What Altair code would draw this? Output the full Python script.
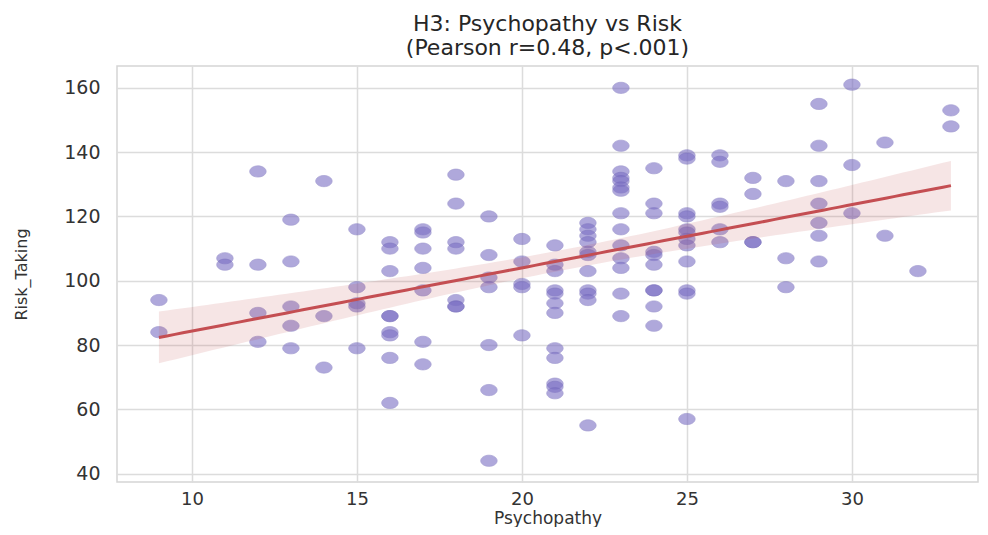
import altair as alt
import numpy as np
import pandas as pd

# Psychopathy score (x) and Risk_Taking score (y)
psychopathy = (
    [9] * 2 + [11] * 2 + [12] * 4 + [13] * 5 + [14] * 3 + [15] * 5 + [16] * 9
    + [17] * 7 + [18] * 7 + [19] * 7 + [20] * 5 + [21] * 12 + [22] * 11
    + [23] * 14 + [24] * 10 + [25] * 12 + [26] * 6 + [27] * 4 + [28] * 3
    + [29] * 7 + [30] * 3 + [31] * 2 + [32] * 1 + [33] * 2
)
risk_taking = [
    94, 84,                                         # 9
    107, 105,                                       # 11
    134, 105, 90, 81,                               # 12
    119, 106, 92, 86, 79,                           # 13
    131, 89, 73,                                    # 14
    116, 98, 93, 92, 79,                            # 15
    112, 110, 103, 89, 89, 84, 83, 76, 62,          # 16
    116, 115, 110, 104, 97, 81, 74,                 # 17
    133, 124, 112, 110, 94, 92, 92,                 # 18
    120, 108, 101, 98, 80, 66, 44,                  # 19
    113, 106, 99, 98, 83,                           # 20
    111, 105, 103, 97, 96, 93, 90, 79, 76, 68, 67, 65,  # 21
    118, 116, 114, 112, 109, 108, 103, 97, 96, 94, 55,  # 22
    160, 142, 134, 132, 131, 129, 128, 121, 116, 111, 107, 104, 96, 89,  # 23
    135, 124, 121, 109, 108, 105, 97, 97, 92, 86,   # 24
    139, 138, 121, 120, 116, 115, 113, 111, 106, 97, 96, 57,  # 25
    139, 137, 124, 123, 116, 112,                   # 26
    132, 127, 112, 112,                             # 27
    131, 107, 98,                                   # 28
    155, 142, 131, 124, 118, 114, 106,              # 29
    161, 136, 121,                                  # 30
    143, 114,                                       # 31
    103,                                            # 32
    153, 148,                                       # 33
]

x_ticks = [10, 15, 20, 25, 30]
y_ticks = [40, 60, 80, 100, 120, 140, 160]
title_lines = ["H3: Psychopathy vs Risk", "(Pearson r=0.48, p<.001)"]

pts = pd.DataFrame({"Psychopathy": psychopathy, "Risk_Taking": risk_taking})

# OLS fit and 95% confidence band for the mean
xa = np.array(psychopathy, dtype=float)
ya = np.array(risk_taking, dtype=float)
n = len(xa)
b1, b0 = np.polyfit(xa, ya, 1)
resid = ya - (b0 + b1 * xa)
s = np.sqrt(np.sum(resid ** 2) / (n - 2))
sxx = np.sum((xa - xa.mean()) ** 2)
grid = np.linspace(xa.min(), xa.max(), 100)
fit = b0 + b1 * grid
se = s * np.sqrt(1.0 / n + (grid - xa.mean()) ** 2 / sxx)
tval = 1.977
band = pd.DataFrame({"x": grid, "fit": fit, "lo": fit - tval * se, "hi": fit + tval * se})

xscale = alt.Scale(domain=[7.73, 33.82], nice=False, zero=False)
yscale = alt.Scale(domain=[37.4, 166.8], nice=False, zero=False)

xaxis = alt.Axis(values=x_ticks, title="Psychopathy", format="d")
yaxis = alt.Axis(values=y_ticks, title="Risk_Taking", format="d")

ellipse = "M -1 0 A 1 0.68 0 1 0 1 0 A 1 0.68 0 1 0 -1 0 Z"

points = alt.Chart(pts).mark_point(
    shape=ellipse, size=270, filled=True, color="#7b6fc4", opacity=0.6,
    stroke="#6a5fb5", strokeWidth=1, strokeOpacity=0.7,
).encode(
    x=alt.X("Psychopathy:Q", scale=xscale, axis=xaxis),
    y=alt.Y("Risk_Taking:Q", scale=yscale, axis=yaxis),
)

ci = alt.Chart(band).mark_area(color="#c44e52", opacity=0.15).encode(
    x=alt.X("x:Q", scale=xscale),
    y=alt.Y("lo:Q", scale=yscale),
    y2="hi:Q",
)

line = alt.Chart(band).mark_line(color="#c44e52", strokeWidth=3).encode(
    x=alt.X("x:Q", scale=xscale),
    y=alt.Y("fit:Q", scale=yscale),
)

chart = alt.layer(points, ci, line).properties(
    width=861,
    height=416,
    autosize=alt.AutoSizeParams(type="none"),
    padding={"left": 109, "top": 58, "right": 2, "bottom": 45},
    title=alt.TitleParams(
        text=title_lines, anchor="middle", frame="group", fontSize=22,
        font="DejaVu Sans", fontWeight="normal", color="#262626",
        lineHeight=24, offset=6,
    ),
).configure_view(
    stroke="#d5d5d5", strokeWidth=1.5,
).configure_axis(
    grid=True, gridColor="#dcdcdc", gridWidth=1.5, domain=False, ticks=False,
    tickSize=0, labelFont="DejaVu Sans", labelFontSize=19, labelColor="#333333",
    titleFont="DejaVu Sans", titleColor="#333333", titleFontWeight="normal",
).configure_axisX(
    labelPadding=8, labelFontSize=18, titleFontSize=17, titlePadding=2,
).configure_axisY(
    labelPadding=17, titleFontSize=16, titlePadding=34,
)

chart.save("out.html", embed_options={"renderer": "svg", "actions": False})
